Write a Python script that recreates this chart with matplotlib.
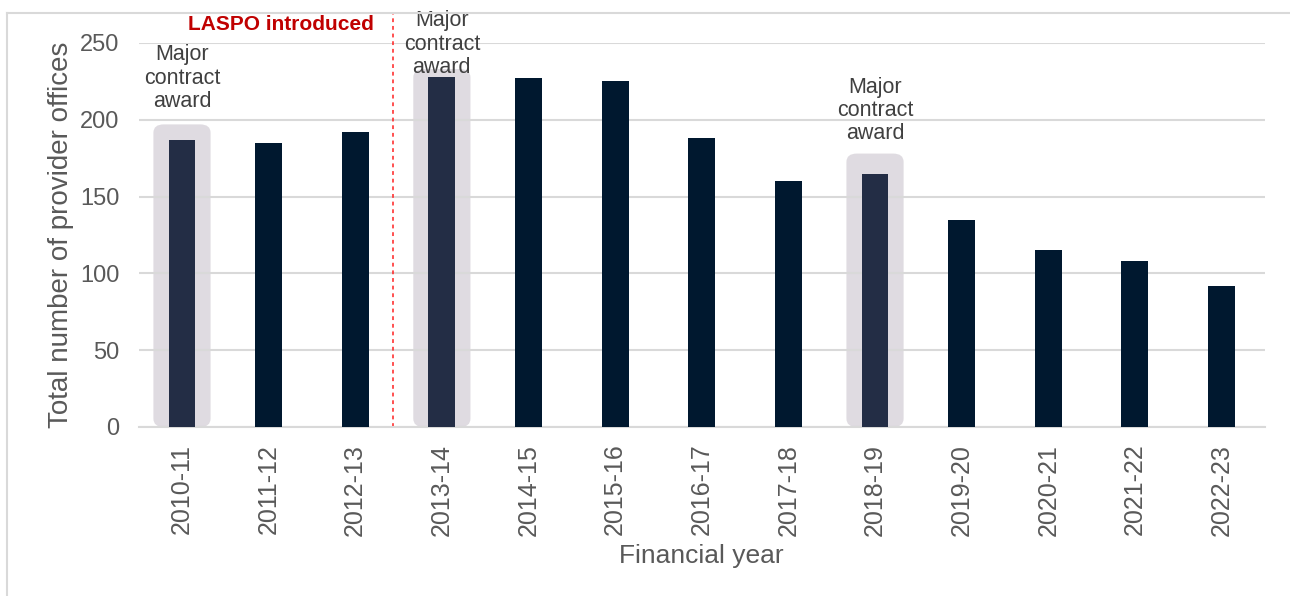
import matplotlib.pyplot as plt
from matplotlib.patches import FancyBboxPatch
from matplotlib.lines import Line2D

years = ["2010-11", "2011-12", "2012-13", "2013-14", "2014-15", "2015-16",
         "2016-17", "2017-18", "2018-19", "2019-20", "2020-21", "2021-22", "2022-23"]
offices = [187, 185, 192, 228, 227, 225, 188, 160, 165, 135, 115, 108, 92]
contract_years = ["2010-11", "2013-14", "2018-19"]
laspo_year = "2013-14"

plt.rcParams['font.family'] = ['Liberation Sans', 'DejaVu Sans']

fig = plt.figure(figsize=(12.9, 5.96), dpi=100)
ax = fig.add_axes([0.1075, 0.2836, 0.873, 0.6443])

x = list(range(len(years)))
colors = ["#232d45" if y in contract_years else "#00182f" for y in years]

# shaded boxes behind the contract award years, label above each
label_gap = {"2010-11": 18, "2013-14": -1, "2018-19": 19}
box_pad = {"2010-11": 10, "2013-14": 5, "2018-19": 13}
for i, y in enumerate(years):
    if y in contract_years:
        box = FancyBboxPatch((i - 0.33, 0), 0.66, offices[i] + box_pad[y],
                             boxstyle="round,pad=0,rounding_size=0.12",
                             mutation_aspect=45, facecolor="#dcd8de",
                             edgecolor="none", alpha=0.9, zorder=1)
        ax.add_patch(box)
        ax.text(i, offices[i] + label_gap[y], "Major\ncontract\naward", ha="center",
                va="bottom", fontsize=15.5, color="#404040", linespacing=1.15,
                zorder=4, clip_on=False)

ax.bar(x, offices, width=0.31, color=colors, zorder=3)

# LASPO marker
lx = years.index(laspo_year) - 0.56
ax.plot([lx, lx], [0, 270], color="#ff2020", lw=1.1, ls=(0, (2.5, 2.5)), zorder=2, clip_on=False)
ax.text(lx - 0.23, 262, "LASPO introduced", ha="right", va="center",
        fontsize=15, fontweight="bold", color="#c00000", clip_on=False)

ax.set_xlim(-0.5, len(years) - 0.5)
ax.set_ylim(0, 250)
ax.set_yticks(range(0, 251, 50))
ax.set_xticks(x)
ax.set_xticklabels(years, rotation=90, fontsize=18, color="#595959")
ax.tick_params(axis="y", labelsize=17, labelcolor="#595959", length=0, pad=14)
ax.tick_params(axis="x", length=0, pad=12)
ax.grid(axis="y", color="#d9d9d9", lw=1.5, zorder=0)
for s in ["top", "right", "left"]:
    ax.spines[s].set_visible(False)
ax.spines["bottom"].set_color("#d9d9d9")
ax.spines["bottom"].set_linewidth(1.5)

ax.set_ylabel("Total number of provider offices", fontsize=20, color="#595959", labelpad=4)
ax.set_xlabel("Financial year", fontsize=19, color="#595959", labelpad=6)

# outer frame lines
fig.add_artist(Line2D([7 / 1290, 1], [1 - 13 / 596, 1 - 13 / 596], color="#d9d9d9", lw=1.5))
fig.add_artist(Line2D([7 / 1290, 7 / 1290], [0, 1 - 13 / 596], color="#d9d9d9", lw=1.5))

fig.savefig("out.png", dpi=100)
